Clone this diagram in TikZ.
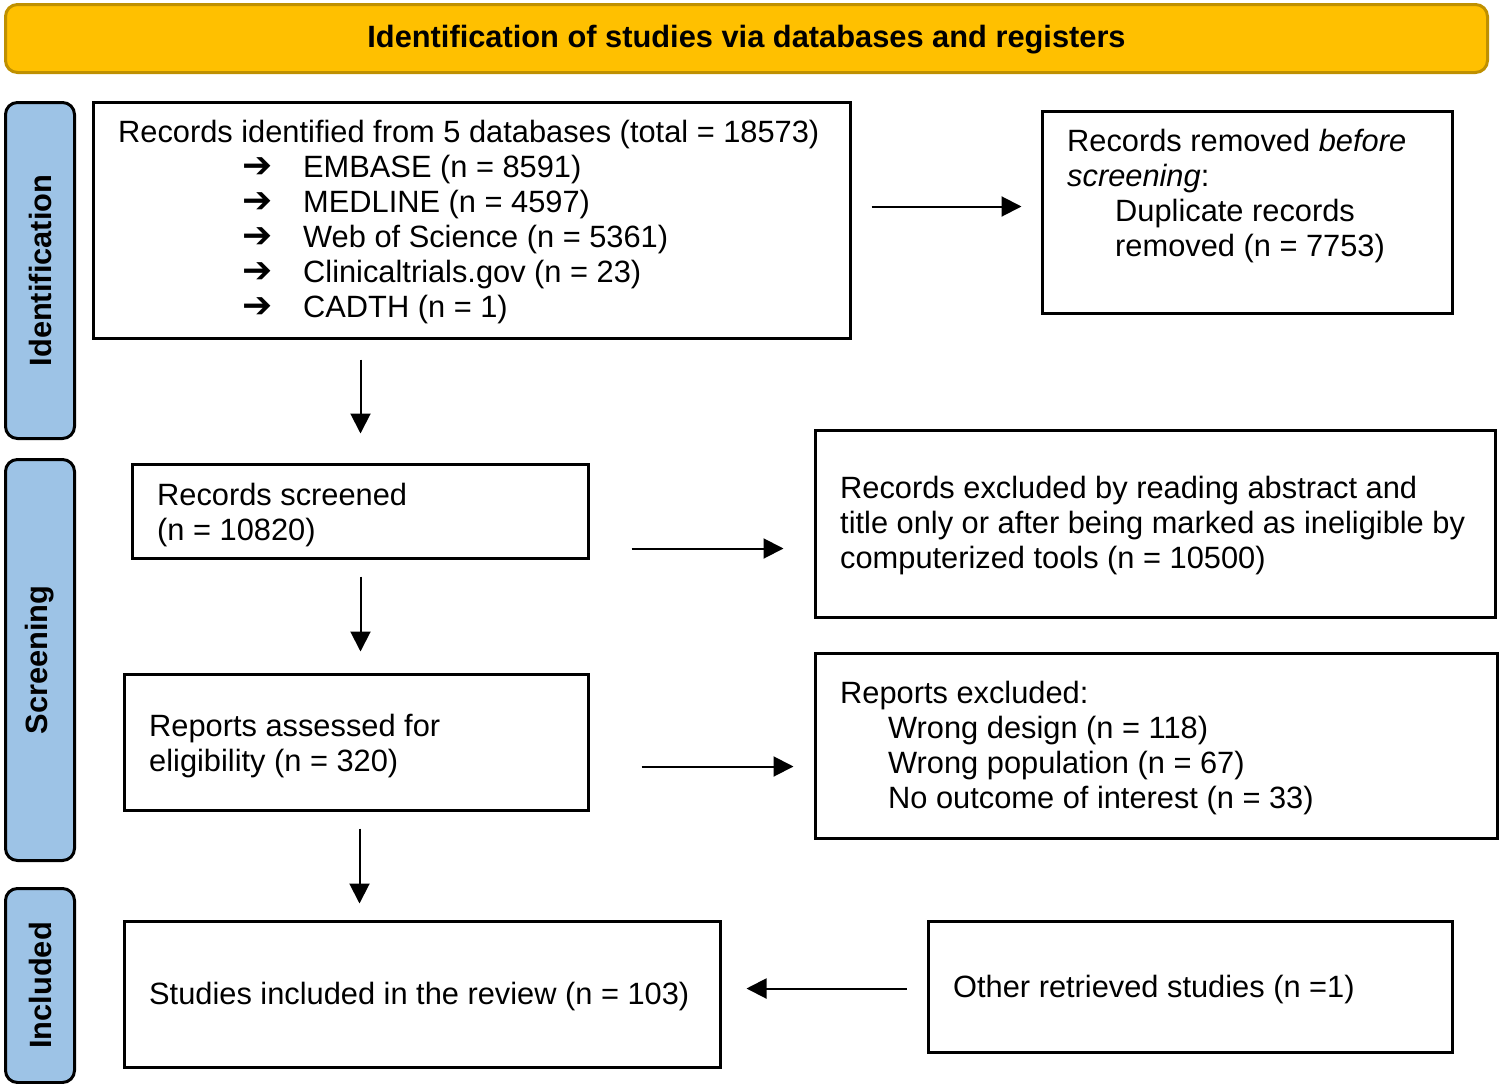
\documentclass[tikz,border=0pt]{standalone}
\usepackage{fontspec}
\setmainfont{Liberation Sans}
\newfontfamily\symfont{DejaVu Sans}
\usetikzlibrary{arrows.meta,calc}
\definecolor{hdrfill}{HTML}{FFC000}
\definecolor{hdrdraw}{HTML}{BF9000}
\definecolor{sidefill}{HTML}{9DC3E6}
\tikzset{
  boxnode/.style={draw=black,line width=3pt,rectangle,inner sep=0pt,anchor=north west},
  sidenode/.style={draw=black,line width=3pt,fill=sidefill,rounded corners=12pt,inner sep=0pt,anchor=north west},
  txtnode/.style={inner sep=0pt,align=left,font=\fontsize{30.8}{35}\selectfont},
  sidetxt/.style={inner sep=0pt,rotate=90,font=\fontsize{30.8}{35}\selectfont\bfseries},
  arr/.style={line width=2pt,-{Triangle[length=20pt,width=20pt]}}
}
\newcommand{\bul}{\hspace*{124pt}\makebox[61pt][l]{{\symfont\bfseries\fontsize{36}{35}\selectfont ➔}}}
\begin{document}
\begin{tikzpicture}[x=1pt,y=-1pt]
\useasboundingbox (0,0) rectangle (1499,1084);
% header
\node[draw=hdrdraw,line width=3pt,fill=hdrfill,rounded corners=12pt,inner sep=0pt,anchor=north west,
      minimum width=1482pt,minimum height=68pt] (hdr) at (4,3) {};
\node[inner sep=0pt,font=\fontsize{30.8}{35}\selectfont\bfseries] (hdrt) at ([yshift=-1pt]hdr.center) {Identification of studies via databases and registers};
% side labels
\node[sidenode,minimum width=69pt,minimum height=336pt] (sid) at (4,101) {};
\node[sidetxt] (sidt) at (sid.center) {Identification};
\node[sidenode,minimum width=69pt,minimum height=401pt] (ssc) at (4,458) {};
\node[sidetxt] (ssct) at (ssc.center) {Screening};
\node[sidenode,minimum width=69pt,minimum height=194pt] (sin) at (4,887) {};
\node[sidetxt] (sint) at (sin.center) {Included};
% boxes
\node[boxnode,minimum width=757pt,minimum height=236pt] (b1) at (92,101) {};
\node[txtnode,anchor=west] (b1t) at ([xshift=26pt,yshift=-2pt]b1.west) {Records identified from 5 databases (total = 18573)\\
\bul EMBASE (n = 8591)\\
\bul MEDLINE (n = 4597)\\
\bul Web of Science (n = 5361)\\
\bul Clinicaltrials.gov (n = 23)\\
\bul CADTH (n = 1)};
\node[boxnode,minimum width=410pt,minimum height=202pt] (rem) at (1041,110) {};
\node[txtnode,anchor=north west] (remt) at ([xshift=26pt,yshift=-19pt]rem.north west) {Records removed \textit{before}\\
\textit{screening}:\\
\hspace*{48pt}Duplicate records\\
\hspace*{48pt}removed (n = 7753)};
\node[boxnode,minimum width=456pt,minimum height=94pt] (scr) at (131,463) {};
\node[txtnode,anchor=west] (scrt) at ([xshift=26pt,yshift=-4pt]scr.west) {Records screened\\(n = 10820)};
\node[boxnode,minimum width=680pt,minimum height=187pt] (exc) at (814,429) {};
\node[txtnode,anchor=west] (exct) at ([xshift=26pt,yshift=-2pt]exc.west) {Records excluded by reading abstract and\\
title only or after being marked as ineligible by\\
computerized tools (n = 10500)};
\node[boxnode,minimum width=464pt,minimum height=136pt] (rep) at (123,673) {};
\node[txtnode,anchor=west] (rept) at ([xshift=26pt,yshift=-4pt]rep.west) {Reports assessed for\\eligibility (n = 320)};
\node[boxnode,minimum width=682pt,minimum height=185pt] (rex) at (814,652) {};
\node[txtnode,anchor=west] (rext) at ([xshift=26pt,yshift=-2pt]rex.west) {Reports excluded:\\
\hspace*{48pt}Wrong design (n = 118)\\
\hspace*{48pt}Wrong population (n = 67)\\
\hspace*{48pt}No outcome of interest (n = 33)};
\node[boxnode,minimum width=596pt,minimum height=146pt] (inc) at (123,920) {};
\node[txtnode,anchor=west] (inct) at ([xshift=26pt,yshift=-2pt]inc.west) {Studies included in the review (n = 103)};
\node[boxnode,minimum width=524pt,minimum height=131pt] (oth) at (927,920) {};
\node[txtnode,anchor=west] (otht) at ([xshift=26pt,yshift=-3pt]oth.west) {Other retrieved studies (n =1)};
% connectors
\coordinate (p1) at ([yshift=14pt]b1.east);
\draw[arr,shorten <=19.5pt,shorten >=19.5pt] (p1) -- (p1 -| rem.west);
\coordinate (q1) at ([xshift=-111.5pt]b1.south);
\draw[arr,shorten <=19.5pt,shorten >=29.5pt] (q1) -- (q1 |- scr.north);
\coordinate (p3) at ([yshift=-37pt]scr.east);
\draw[arr,shorten <=41.5pt,shorten >=30.5pt] (p3) -- (p3 -| exc.west);
\draw[arr,shorten <=16.5pt,shorten >=21.5pt] (scr.south) -- (scr.south |- rep.north);
\coordinate (p5) at ([yshift=-24pt]rep.east);
\draw[arr,shorten <=51.5pt,shorten >=20.5pt] (p5) -- (p5 -| rex.west);
\coordinate (q6) at ([xshift=3pt]rep.south);
\draw[arr,shorten <=16.5pt,shorten >=16.5pt] (q6) -- (q6 |- inc.north);
\coordinate (p7) at ([yshift=-1.5pt]oth.west);
\draw[arr,shorten <=20.5pt,shorten >=24.5pt] (p7) -- (p7 -| inc.east);
\end{tikzpicture}
\end{document}
